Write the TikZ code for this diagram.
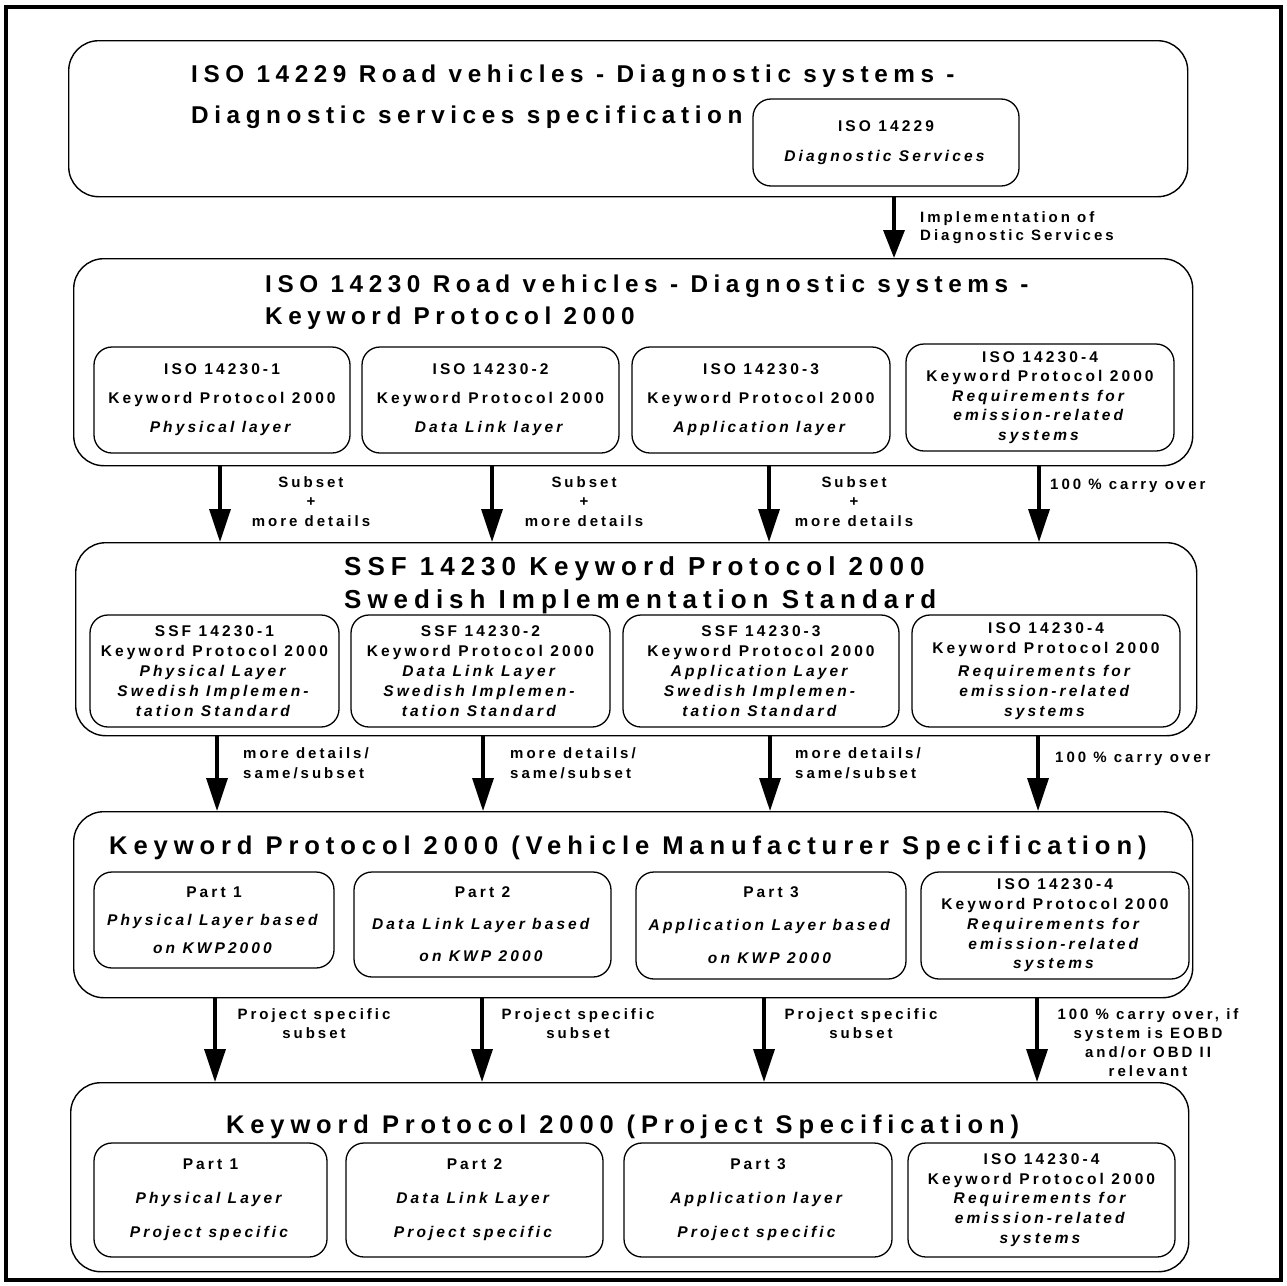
\documentclass[tikz,border=0pt]{standalone}
\usepackage{fontspec}
\setmainfont{Liberation Sans}
\newfontfamily\headfont[LetterSpace=23,Ligatures=NoCommon]{Liberation Sans}
\newfontfamily\partfont[LetterSpace=20,Ligatures=NoCommon]{Liberation Sans}
\usetikzlibrary{arrows.meta}

\tikzset{
  outerframe/.style={draw, line width=4pt},
  groupbox/.style={draw, line width=1.4pt, rounded corners=30pt, anchor=north west, inner sep=0pt},
  partbox/.style={draw, line width=1.3pt, rounded corners=18pt, align=center, inner sep=0pt,
    font=\partfont\bfseries\fontsize{15.5}{#1}\selectfont},
  partbox/.default=29pt,
  heading/.style 2 args={anchor=base west, inner sep=0pt, align=left,
    font=\headfont\bfseries\fontsize{#1}{#2}\selectfont},
  lbl/.style={inner sep=0pt, align=center, anchor=base,
    font=\partfont\bfseries\fontsize{15}{#1}\selectfont},
  lbl/.default=19pt,
  flow/.style={line width=3.5pt, -{Triangle[length=#1,width=21pt]}},
  flow/.default=33pt,
}

\begin{document}
\begin{tikzpicture}[x=1pt,y=-1pt]
  \useasboundingbox (0,0) rectangle (1287,1285);
  \draw[outerframe] (6,6.5) rectangle (1281,1280);

  \node[groupbox, minimum width=1119pt, minimum height=156pt] (g1) at (68,40) {};
  \node[groupbox, minimum width=1119pt, minimum height=207pt] (g2) at (73,258) {};
  \node[groupbox, minimum width=1121pt, minimum height=193pt] (g3) at (75,542) {};
  \node[groupbox, minimum width=1119pt, minimum height=186pt] (g4) at (73,811) {};
  \node[groupbox, minimum width=1118pt, minimum height=189pt] (g5) at (70,1082) {};

  % base of a two-line heading is its last line
  \node[heading={24.3}{41}] (t1) at (191,123)
    {ISO 14229 Road vehicles - Diagnostic systems -\\Diagnostic services specification};
  \node[heading={24.3}{32}] (t2) at (265,324)
    {ISO 14230 Road vehicles - Diagnostic systems -\\Keyword Protocol 2000};
  \node[heading={26}{33}] (t3) at (344,608)
    {SSF 14230 Keyword Protocol 2000\\Swedish Implementation Standard};
  \node[heading={25.6}{30}] (t4) at (109,854)
    {Keyword Protocol 2000 (Vehicle Manufacturer Specification)};
  \node[heading={25.5}{30}] (t5) at (226,1133)
    {Keyword Protocol 2000 (Project Specification)};

  \node[partbox=30pt, minimum width=266pt, minimum height=87pt] (p11) at (886,142.5)
    {ISO 14229\\\textit{Diagnostic Services}};

  \node[partbox, minimum width=256pt, minimum height=106pt] (p21) at (222,400)
    {ISO 14230-1\\Keyword Protocol 2000\\\textit{Physical layer}};
  \node[partbox, minimum width=257pt, minimum height=106pt] (p22) at (490.5,400)
    {ISO 14230-2\\Keyword Protocol 2000\\\textit{Data Link layer}};
  \node[partbox, minimum width=258pt, minimum height=106pt] (p23) at (761,400)
    {ISO 14230-3\\Keyword Protocol 2000\\\textit{Application layer}};
  \node[partbox=19.5pt, minimum width=268pt, minimum height=107pt] (p24) at (1040,397.5)
    {ISO 14230-4\\Keyword Protocol 2000\\\textit{Requirements for}\\\textit{emission-related}\\\textit{systems}};

  \node[partbox=20pt, minimum width=249pt, minimum height=112pt] (p31) at (214.5,671)
    {SSF 14230-1\\Keyword Protocol 2000\\\textit{Physical Layer}\\\textit{Swedish Implemen-}\\\textit{tation Standard}};
  \node[partbox=20pt, minimum width=259pt, minimum height=112pt] (p32) at (480.5,671)
    {SSF 14230-2\\Keyword Protocol 2000\\\textit{Data Link Layer}\\\textit{Swedish Implemen-}\\\textit{tation Standard}};
  \node[partbox=20pt, minimum width=276pt, minimum height=112pt] (p33) at (761,671)
    {SSF 14230-3\\Keyword Protocol 2000\\\textit{Application Layer}\\\textit{Swedish Implemen-}\\\textit{tation Standard}};
  \node[partbox=20pt, minimum width=268pt, minimum height=112pt] (p34) at (1046,671)
    {ISO 14230-4\\Keyword Protocol 2000\\[3pt]\textit{Requirements for}\\\textit{emission-related}\\\textit{systems}};

  \node[partbox=28pt, minimum width=240pt, minimum height=96pt] (p41) at (214,920)
    {Part 1\\\textit{Physical Layer based}\\\textit{on KWP2000}};
  \node[partbox=32pt, minimum width=257pt, minimum height=105pt] (p42) at (482.5,924.5)
    {Part 2\\\textit{Data Link Layer based}\\\textit{on KWP 2000}};
  \node[partbox=33pt, minimum width=270pt, minimum height=107pt] (p43) at (771,925.5)
    {Part 3\\\textit{Application Layer based}\\\textit{on KWP 2000}};
  \node[partbox=19.75pt, minimum width=268pt, minimum height=107pt] (p44) at (1055,925.5)
    {ISO 14230-4\\Keyword Protocol 2000\\\textit{Requirements for}\\\textit{emission-related}\\\textit{systems}};

  \node[partbox=34pt, minimum width=233pt, minimum height=114pt] (p51) at (210.5,1200)
    {Part 1\\\textit{Physical Layer}\\\textit{Project specific}};
  \node[partbox=34pt, minimum width=257pt, minimum height=114pt] (p52) at (474.5,1200)
    {Part 2\\\textit{Data Link Layer}\\\textit{Project specific}};
  \node[partbox=34pt, minimum width=268pt, minimum height=114pt] (p53) at (758,1200)
    {Part 3\\\textit{Application layer}\\\textit{Project specific}};
  \node[partbox=19.75pt, minimum width=267pt, minimum height=114pt] (p54) at (1041.5,1200)
    {ISO 14230-4\\Keyword Protocol 2000\\\textit{Requirements for}\\\textit{emission-related}\\\textit{systems}};

  \draw[flow=28pt] (894,0 |- g1.south) -- (894,0 |- g2.north);
  \node[lbl=18pt, anchor=base west, align=left] (l1) at (920,240)
    {Implementation of\\Diagnostic Services};

  \draw[flow] (220,0 |- g2.south) -- (220,0 |- g3.north);
  \draw[flow] (492,0 |- g2.south) -- (492,0 |- g3.north);
  \draw[flow] (769,0 |- g2.south) -- (769,0 |- g3.north);
  \draw[flow] (1039,0 |- g2.south) -- (1039,0 |- g3.north);
  \node[lbl=19.5pt] (l21) at (311,526) {Subset\\+\\more details};
  \node[lbl=19.5pt] (l22) at (584,526) {Subset\\+\\more details};
  \node[lbl=19.5pt] (l23) at (854,526) {Subset\\+\\more details};
  \node[lbl, anchor=base west] (l24) at (1050,489) {100 \% carry over};

  \draw[flow] (217,0 |- g3.south) -- (217,0 |- g4.north);
  \draw[flow] (483,0 |- g3.south) -- (483,0 |- g4.north);
  \draw[flow] (770,0 |- g3.south) -- (770,0 |- g4.north);
  \draw[flow] (1038,0 |- g3.south) -- (1038,0 |- g4.north);
  \node[lbl=20pt, anchor=base west, align=left] (l31) at (243,778) {more details/\\same/subset};
  \node[lbl=20pt, anchor=base west, align=left] (l32) at (510,778) {more details/\\same/subset};
  \node[lbl=20pt, anchor=base west, align=left] (l33) at (795,778) {more details/\\same/subset};
  \node[lbl, anchor=base west] (l34) at (1055,762) {100 \% carry over};

  \draw[flow] (215,0 |- g4.south) -- (215,0 |- g5.north);
  \draw[flow] (482,0 |- g4.south) -- (482,0 |- g5.north);
  \draw[flow] (764,0 |- g4.south) -- (764,0 |- g5.north);
  \draw[flow] (1037,0 |- g4.south) -- (1037,0 |- g5.north);
  \node[lbl] (l41) at (314,1038) {Project specific\\subset};
  \node[lbl] (l42) at (578,1038) {Project specific\\subset};
  \node[lbl] (l43) at (861,1038) {Project specific\\subset};
  \node[lbl] (l44) at (1148,1076)
    {100 \% carry over, if\\system is EOBD\\and/or OBD II\\relevant};
\end{tikzpicture}
\end{document}
